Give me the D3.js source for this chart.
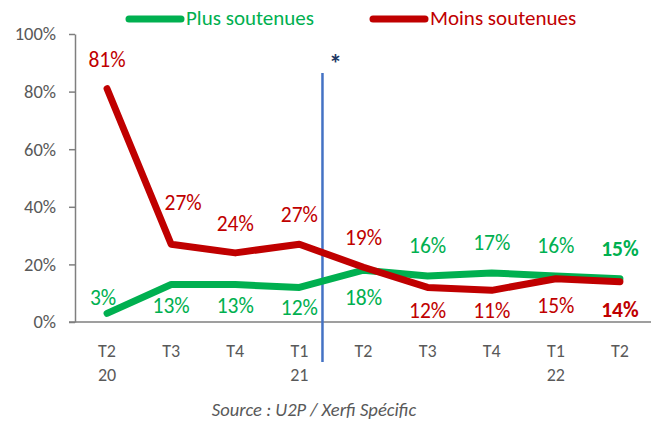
<!DOCTYPE html>
<html><head><meta charset="utf-8">
<script src="https://cdn.jsdelivr.net/npm/d3@7"></script>
<style>
body{margin:0;background:#fff;}
text{font-family:Carlito, Calibri, Lato, "Open Sans", sans-serif;}
</style></head>
<body><svg id="c" width="651" height="421"></svg>
<script>
const categories = ["T2|20","T3","T4","T1|21","T2b","T3b","T4b","T1|22","T2c"];
const tickLabels = [["T2","20"],["T3"],["T4"],["T1","21"],["T2"],["T3"],["T4"],["T1","22"],["T2"]];
const plusSoutenues = [3,13,13,12,18,16,17,16,15];
const moinsSoutenues = [81,27,24,27,19,12,11,15,14];
const yTicks = [0,20,40,60,80,100];
// label placement (layout only): baseline offset from point (px) and horizontal nudge
const plusLabelDy = [-8,28,28,28,35,-23,-23,-23,-23];
const plusLabelDx = [-4,0,0,0,0,0,0,0,0];
const moinsLabelDy = [-22,-34,-22,-22,-22,31,28,34,35];
const moinsLabelDx = [0,12,0,0,0,0,0,0,0];

const GREEN="#00B050", RED="#C00000", GRAY="#595959", AXIS="#7F7F7F";
const svg=d3.select("#c");
const x=d3.scaleBand().domain(categories).range([75,652]);
const y=d3.scaleLinear().domain([0,100]).range([322,34]);
const cx=d=>x(d)+x.bandwidth()/2;

// y axis
const yAxis=d3.axisLeft(y).tickValues(yTicks).tickFormat(d=>d+"%").tickSize(6).tickSizeOuter(0);
const ga=svg.append("g").attr("transform","translate(75,0)").call(yAxis);
ga.select(".domain").attr("stroke",AXIS).attr("stroke-width",1.5);
ga.selectAll(".tick line").attr("stroke",AXIS).attr("stroke-width",1.5);
ga.selectAll(".tick text").attr("fill",GRAY).attr("font-size",18.5).attr("x",-19)
  .attr("font-family","Carlito, Calibri, Lato, sans-serif");
// x axis
svg.append("line").attr("x1",69).attr("x2",651).attr("y1",y(0)).attr("y2",y(0))
  .attr("stroke",AXIS).attr("stroke-width",1.5);
categories.forEach((c,i)=>{
  const t=svg.append("text").attr("x",cx(c)).attr("y",357).attr("text-anchor","middle")
    .attr("fill",GRAY).attr("font-size",18);
  tickLabels[i].forEach((s,j)=>t.append("tspan").attr("x",cx(c)).attr("dy",j?24:0).text(s));
});

// vertical marker
const vx=cx(categories[3])+0.36*x.step();
svg.append("line").attr("x1",vx).attr("x2",vx).attr("y1",73).attr("y2",362)
  .attr("stroke","#4472C4").attr("stroke-width",2.5);
svg.append("text").attr("x",vx+13).attr("y",73).attr("text-anchor","middle")
  .attr("fill","#1F3864").attr("font-size",26).attr("font-weight","bold").text("*");

// lines
const line=d3.line().x((d,i)=>cx(categories[i])).y(d=>y(d));
svg.append("path").datum(plusSoutenues).attr("d",line).attr("fill","none")
  .attr("stroke",GREEN).attr("stroke-width",7).attr("stroke-linecap","round").attr("stroke-linejoin","round");
svg.append("path").datum(moinsSoutenues).attr("d",line).attr("fill","none")
  .attr("stroke",RED).attr("stroke-width",7).attr("stroke-linecap","round").attr("stroke-linejoin","round");

// labels
function labels(data,dys,dxs,color){
  data.forEach((v,i)=>{
    const last=i===data.length-1;
    svg.append("text").attr("x",cx(categories[i])+dxs[i]).attr("y",y(v)+dys[i]).attr("text-anchor","middle")
      .attr("fill",color).attr("font-size",21.5).attr("font-weight",last?"bold":"normal")
      .text(v+"%");
  });
}
labels(plusSoutenues,plusLabelDy,plusLabelDx,GREEN);
labels(moinsSoutenues,moinsLabelDy,moinsLabelDx,RED);

// legend
const legend=[["Plus soutenues",GREEN,126],["Moins soutenues",RED,370]];
legend.forEach(([name,col,lx])=>{
  svg.append("line").attr("x1",lx+3).attr("x2",lx+55).attr("y1",19).attr("y2",19)
    .attr("stroke",col).attr("stroke-width",7).attr("stroke-linecap","round");
  svg.append("text").attr("x",lx+60).attr("y",25).attr("fill",col).attr("font-size",21).text(name);
});

// source
svg.append("text").attr("x",314).attr("y",416).attr("text-anchor","middle").attr("fill",GRAY)
  .attr("font-size",18.5).attr("font-style","italic").text("Source : U2P / Xerfi Spécific");
</script></body></html>
